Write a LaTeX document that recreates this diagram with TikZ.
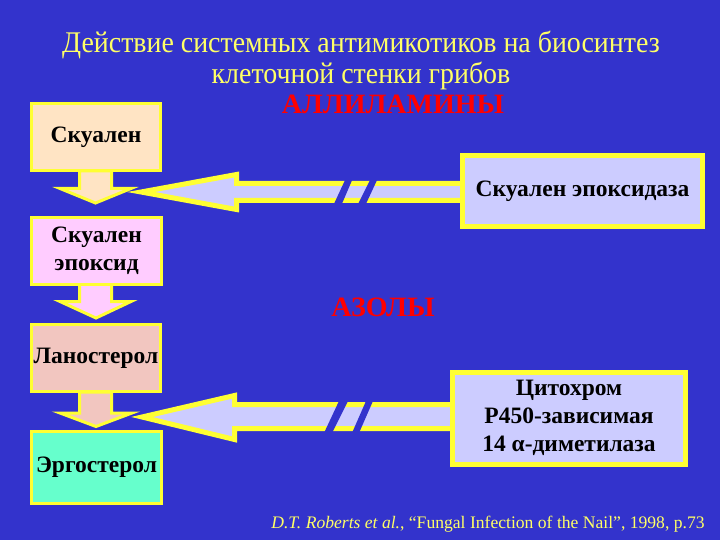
\documentclass[tikz,border=0pt]{standalone}
\usepackage{fontspec}
\setmainfont{Liberation Serif}
\newfontfamily\titlefont[FakeStretch=0.93]{Liberation Serif}
\definecolor{bg}{HTML}{3333CC}
\definecolor{ylw}{HTML}{FFFF33}
\definecolor{ttl}{HTML}{FFFF66}
\definecolor{lav}{HTML}{CCCCFF}
\definecolor{peach}{HTML}{FFE4C4}
\definecolor{pinkc}{HTML}{FFCCFF}
\definecolor{rose}{HTML}{F2C6C0}
\definecolor{mint}{HTML}{66FFCC}
\definecolor{redt}{HTML}{FF0000}
\begin{document}
\begin{tikzpicture}[x=1pt,y=-1pt,
  lbox/.style={draw=ylw, line width=3pt, text=black, align=center, inner sep=0pt,
    font=\fontsize{23.5}{28}\selectfont\bfseries},
  rbox/.style={draw=ylw, line width=5pt, fill=lav, text=black, align=center, inner sep=0pt,
    font=\fontsize{23.5}{28}\selectfont\bfseries},
  downarrow/.style={draw=ylw, line width=3pt},
  blockarrow/.style={draw=ylw, line width=5pt, fill=lav},
  breakbar/.style={fill=bg},
  drug/.style={text=redt, font=\fontsize{28}{30}\selectfont\bfseries},
  ttlstyle/.style={text=ttl, font=\titlefont\fontsize{30}{31}\selectfont}]
\fill[bg] (0,0) rectangle (720,540);
\useasboundingbox (0,0) rectangle (720,540);

% title
\node[ttlstyle] (t1) at (361,45) {Действие системных антимикотиков на биосинтез};
\node[ttlstyle] (t2) at (361,76) {клеточной стенки грибов};
\node[drug] (allyl) at (393,104) {АЛЛИЛАМИНЫ};
\node[drug] (azol) at (383,307) {АЗОЛЫ};

% down arrows (drawn before boxes)
\draw[downarrow, fill=peach] (79.5,171) -- (79.5,188.5) -- (60,188.5) -- (95.5,203) -- (131,188.5) -- (111.5,188.5) -- (111.5,171) -- cycle;
\draw[downarrow, fill=pinkc] (79.5,284) -- (79.5,301.5) -- (60,301.5) -- (96,318) -- (131,301.5) -- (111.5,301.5) -- (111.5,284) -- cycle;
\draw[downarrow, fill=rose] (79.5,392) -- (79.5,413) -- (60,413) -- (96,426.5) -- (132,413) -- (111.5,413) -- (111.5,392) -- cycle;

% left boxes
\node[lbox, fill=peach, minimum width=129pt, minimum height=67pt] (sq) at (96,137) {Скуален};
\node[lbox, fill=pinkc, minimum width=130pt, minimum height=67pt] (sqe) at (96.5,251) {Скуален\\эпоксид};
\node[lbox, fill=rose, minimum width=129pt, minimum height=67pt] (lan) at (96,358) {Ланостерол};
\node[lbox, fill=mint, minimum width=130pt, minimum height=72pt] (erg) at (96.5,467.5) {Эргостерол};

% block arrows from enzymes
\draw[blockarrow] (141,192) -- (236.5,174.5) -- (236.5,183.5) -- (463,183.5) -- (463,200.5) -- (236.5,200.5) -- (236.5,209.5) -- cycle;
\draw[blockarrow] (142,417) -- (234.5,395.5) -- (234.5,404.5) -- (453,404.5) -- (453,428.5) -- (234.5,428.5) -- (234.5,439.5) -- cycle;

% breaks
\fill[breakbar] (333,206) -- (341,206) -- (353,178) -- (346,178) -- cycle;
\fill[breakbar] (357,206) -- (365,206) -- (378,178) -- (371,178) -- cycle;
\fill[breakbar] (324,433) -- (332,433) -- (348,401) -- (339,401) -- cycle;
\fill[breakbar] (352,433) -- (359,433) -- (373,401) -- (366,401) -- cycle;

% enzyme boxes
\node[rbox, minimum width=240pt, minimum height=71pt] (sqep) at (582.5,191) {Скуален эпоксидаза};
\node[rbox, minimum width=233pt, minimum height=92pt] (cyp) at (569,418) {Цитохром\\Р450-зависимая\\14 α-диметилаза};

% citation
\node[text=ttl, font=\fontsize{17.6}{19}\selectfont] (cite) at (488,524)
  {\textit{D.T. Roberts et al.}, “Fungal Infection of the Nail”, 1998, p.73};
\end{tikzpicture}
\end{document}
